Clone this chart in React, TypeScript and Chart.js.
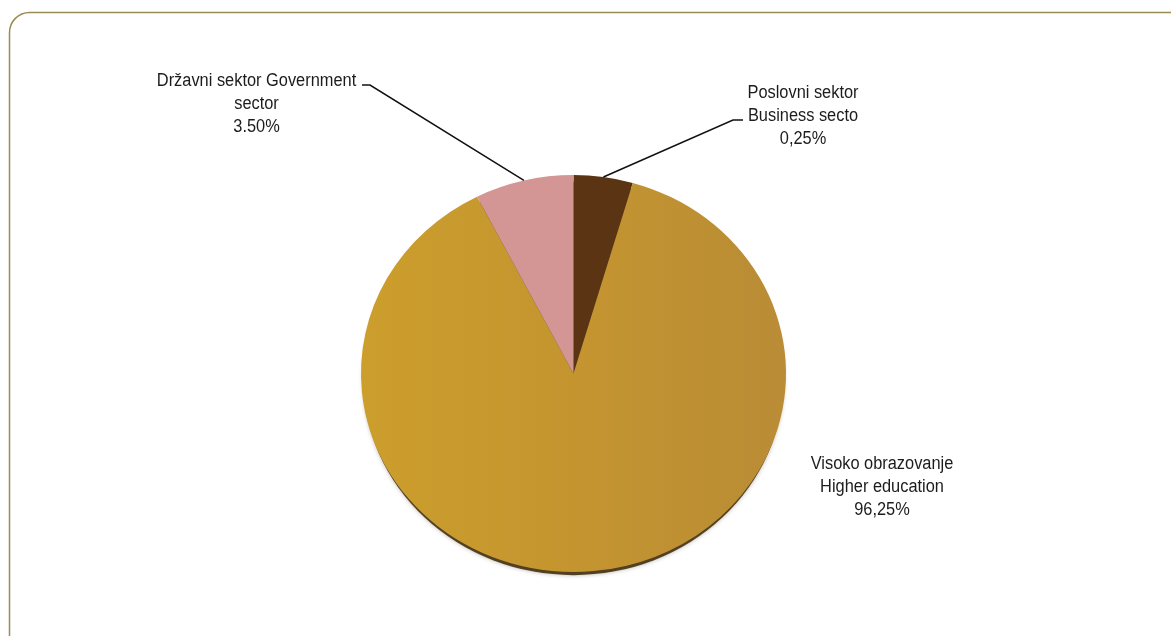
import React, { useEffect, useRef } from "react";
import { Chart, registerables } from "chart.js";

Chart.register(...registerables);

// Sector categories (clockwise from the top)
const categories = ["Poslovni sektor Business secto", "Visoko obrazovanje Higher education", "Državni sektor Government sector"];
// Slice sizes as drawn in the picture (share of the circle, %)
const sliceValues = [4.5, 88.0, 7.5];
// Label texts as printed next to the slices
const labelLines = [
  ["Poslovni sektor", "Business secto", "0,25%"],
  ["Visoko obrazovanje", "Higher education", "96,25%"],
  ["Državni sektor Government", "sector", "3.50%"],
];
const sliceColors = ["#5a3413", "gold", "#d49595"];

const W = 1171;
const H = 636;
const CX = 573.5;
const CY = 373.5;
const RX = 212.5;
const SY = 198.5 / 212.5;

// label layout: centre x, first baseline y, elbow points (null = no leader)
const labelLayout = [
  { x: 803, y: 98, leader: [[743, 120], [733, 120]] },
  { x: 882, y: 469, leader: null },
  { x: 256.5, y: 85.5, leader: [[362, 85], [370, 85]] },
];

const framePlugin = {
  id: "frame",
  beforeDraw(chart: any) {
    const ctx = chart.ctx;
    ctx.save();
    ctx.fillStyle = "#ffffff";
    ctx.fillRect(0, 0, W, H);
    ctx.strokeStyle = "#9a8c52";
    ctx.lineWidth = 1.5;
    const x = 9.5, y = 12.5, r = 20, x2 = W + 40, y2 = H + 40;
    ctx.beginPath();
    ctx.moveTo(x, y2);
    ctx.lineTo(x, y + r);
    ctx.arcTo(x, y, x + r, y, r);
    ctx.lineTo(x2, y);
    ctx.stroke();
    ctx.restore();
  },
};

const ellipsePlugin = {
  id: "ellipse",
  beforeDatasetsDraw(chart: any) {
    const ctx = chart.ctx;
    const meta = chart.getDatasetMeta(0);
    const el = meta.data[0];
    if (!el) return;
    const cx = el.x, cy = el.y, r = el.outerRadius;
    ctx.save();
    ctx.translate(cx, cy);
    ctx.scale(1, SY);
    ctx.translate(-cx, -cy);
    // shadow under the disk
    ctx.save();
    ctx.fillStyle = "rgba(60,40,8,0.85)";
    ctx.shadowColor = "rgba(60,40,10,0.4)";
    ctx.shadowBlur = 4;
    ctx.beginPath();
    ctx.arc(cx, cy + 5 / SY, r - 2, 0, Math.PI * 2);
    ctx.fill();
    ctx.restore();
  },
  afterDatasetsDraw(chart: any) {
    chart.ctx.restore();
  },
};

const labelPlugin = {
  id: "labels",
  afterDraw(chart: any) {
    const ctx = chart.ctx;
    const meta = chart.getDatasetMeta(0);
    ctx.save();
    ctx.strokeStyle = "#111111";
    ctx.lineWidth = 1.5;
    meta.data.forEach((arc: any, i: number) => {
      const lay = labelLayout[i];
      if (lay.leader) {
        const mid = (arc.startAngle + arc.endAngle) / 2;
        const px = arc.x + Math.cos(mid) * arc.outerRadius;
        const py = arc.y + Math.sin(mid) * arc.outerRadius * SY;
        ctx.beginPath();
        ctx.moveTo(px, py);
        ctx.lineTo(lay.leader[1][0], lay.leader[1][1]);
        ctx.lineTo(lay.leader[0][0], lay.leader[0][1]);
        ctx.stroke();
      }
      ctx.fillStyle = "#1c1c1c";
      ctx.font = '18px "Liberation Sans", Arial, sans-serif';
      ctx.textAlign = "center";
      ctx.textBaseline = "alphabetic";
      labelLines[i].forEach((line, k) => {
        ctx.save();
        ctx.translate(lay.x, lay.y + k * 23);
        ctx.scale(0.91, 1);
        ctx.fillText(line, 0, 0);
        ctx.restore();
      });
    });
    ctx.restore();
  },
};

export default function App() {
  const ref = useRef<HTMLCanvasElement | null>(null);
  useEffect(() => {
    if (!ref.current) return;
    const chart = new Chart(ref.current, {
      type: "pie",
      data: {
        labels: categories,
        datasets: [
          {
            data: sliceValues,
            borderWidth: 0,
            backgroundColor: (c: any) => {
              const col = sliceColors[c.dataIndex];
              if (col !== "gold") return col;
              const area = c.chart.chartArea;
              if (!area) return "#c4962f";
              const g = c.chart.ctx.createLinearGradient(area.left, 0, area.right, 0);
              g.addColorStop(0, "#cc9e2c");
              g.addColorStop(0.5, "#c4952f");
              g.addColorStop(1, "#b98c36");
              return g;
            },
          },
        ],
      },
      options: {
        responsive: false,
        animation: false,
        layout: {
          padding: {
            left: CX - RX,
            right: W - (CX + RX),
            top: CY - RX,
            bottom: H - (CY + RX),
          },
        },
        plugins: {
          legend: { display: false },
          tooltip: { enabled: false },
        },
      },
      plugins: [framePlugin, ellipsePlugin, labelPlugin],
    });
    return () => chart.destroy();
  }, []);
  return (
    <div style={{ position: "fixed", left: 0, top: 0, width: W, height: H }}>
      <canvas ref={ref} width={W} height={H} style={{ display: "block" }} />
    </div>
  );
}
